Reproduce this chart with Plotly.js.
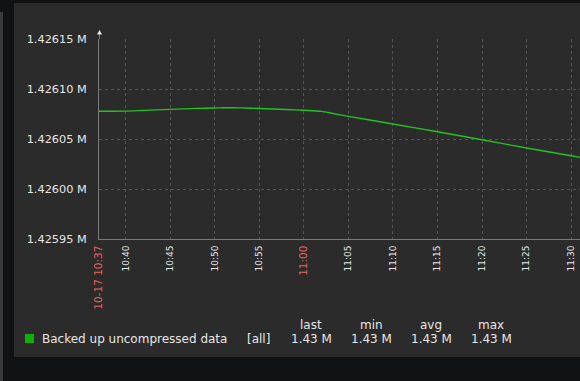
<!DOCTYPE html>
<html>
<head>
<meta charset="utf-8">
<script src="https://cdn.plot.ly/plotly-3.0.1.min.js"></script>
<style>
html,body{margin:0;padding:0;background:#111214;}
#chart{width:580px;height:381px;}
</style>
</head>
<body>
<div id="chart"></div>
<script>
// ---- data ----
const times = [
  '2024-10-17 10:37:00','2024-10-17 10:40:00','2024-10-17 10:42:00','2024-10-17 10:45:00',
  '2024-10-17 10:48:00','2024-10-17 10:50:00','2024-10-17 10:51:00','2024-10-17 10:52:00',
  '2024-10-17 10:53:00','2024-10-17 10:55:00','2024-10-17 10:58:00','2024-10-17 11:00:00',
  '2024-10-17 11:01:00','2024-10-17 11:02:00','2024-10-17 11:03:00','2024-10-17 11:05:00',
  '2024-10-17 11:10:00','2024-10-17 11:15:00','2024-10-17 11:20:00','2024-10-17 11:25:00',
  '2024-10-17 11:30:00','2024-10-17 11:31:00'
];
const values = [
  1426077.7, 1426077.9, 1426078.6, 1426079.6,
  1426080.6, 1426081.0, 1426081.2, 1426081.3,
  1426081.1, 1426080.5, 1426079.5, 1426078.8,
  1426078.3, 1426077.6, 1426076.0, 1426072.6,
  1426065.0, 1426057.2, 1426049.2, 1426041.0,
  1426033.2, 1426031.6
];
const seriesName = 'Backed up uncompressed data';
const yTickVals = [1425950, 1426000, 1426050, 1426100, 1426150];
const yTickText = ['1.42595 M', '1.42600 M', '1.42605 M', '1.42610 M', '1.42615 M'];
const xTickVals = [
  '2024-10-17 10:37','2024-10-17 10:40','2024-10-17 10:45','2024-10-17 10:50','2024-10-17 10:55',
  '2024-10-17 11:00','2024-10-17 11:05','2024-10-17 11:10','2024-10-17 11:15','2024-10-17 11:20',
  '2024-10-17 11:25','2024-10-17 11:30'
];
const xTickLabels = ['10-17 10:37','10:40','10:45','10:50','10:55','11:00','11:05','11:10','11:15','11:20','11:25','11:30'];
const xTickRed = [true,false,false,false,false,true,false,false,false,false,false,false];
const legendFunc = '[all]';
const statNames = ['last', 'min', 'avg', 'max'];
const statValues = ['1.43 M', '1.43 M', '1.43 M', '1.43 M'];

// ---- layout helpers (pixel -> paper) ----
const L = 99, R = 580, T = 39, B = 239;
const xp = px => (px - L) / (R - L);
const yp = py => (B - py) / (B - T);

const ticktext = xTickLabels.map((t, i) =>
  xTickRed[i] ? '<span style="fill:#e86060;font-size:10.5px">' + t + '</span>' : t);

const shapes = [
  {type:'rect', xref:'paper', yref:'paper', x0:xp(14), x1:xp(600), y0:yp(3), y1:yp(357),
   fillcolor:'#2b2b2b', line:{width:0}, layer:'below'},
  {type:'rect', xref:'paper', yref:'paper', x0:xp(0), x1:xp(3), y0:yp(12), y1:yp(381),
   fillcolor:'#3a3a3a', line:{width:0}, layer:'below'},
  {type:'line', xref:'paper', yref:'paper', x0:xp(99.5), x1:xp(99.5), y0:yp(34), y1:yp(39),
   line:{color:'#7a7a7a', width:1}},
  {type:'path', xref:'paper', yref:'paper',
   path:'M '+xp(99.5)+' '+yp(30)+' L '+xp(97)+' '+yp(34.5)+' L '+xp(102)+' '+yp(34.5)+' Z',
   fillcolor:'#e8e8e8', line:{width:0}},
  {type:'rect', xref:'paper', yref:'paper', x0:xp(25), x1:xp(34), y0:yp(334), y1:yp(343),
   fillcolor:'#0db00d', line:{width:0}}
];

const legFont = {family:'DejaVu Sans', size:12, color:'#e6e6e6'};
const annotations = [
  {xref:'paper', yref:'paper', x:xp(40), y:yp(339), text:seriesName, showarrow:false,
   xanchor:'left', yanchor:'middle', font:legFont},
  {xref:'paper', yref:'paper', x:xp(258), y:yp(339), text:legendFunc, showarrow:false,
   xanchor:'center', yanchor:'middle', font:legFont}
];
const statCenters = [311, 371, 431, 491];
statNames.forEach((n, i) => {
  annotations.push({xref:'paper', yref:'paper', x:xp(statCenters[i]), y:yp(325), text:n,
    showarrow:false, xanchor:'center', yanchor:'middle', font:legFont});
  annotations.push({xref:'paper', yref:'paper', x:xp(statCenters[i]), y:yp(339), text:statValues[i],
    showarrow:false, xanchor:'center', yanchor:'middle', font:legFont});
});

const trace = {
  x: times, y: values, type:'scatter', mode:'lines', name: seriesName,
  line:{color:'#22c322', width:1.4, shape:'spline', smoothing:0.6}, hoverinfo:'skip'
};

const layout = {
  width:580, height:381,
  margin:{l:L, r:580-R, t:T, b:381-B, pad:0},
  paper_bgcolor:'#111214', plot_bgcolor:'#2b2b2b',
  showlegend:false,
  font:{family:'DejaVu Sans', color:'#e6e6e6'},
  xaxis:{
    type:'date', range:['2024-10-17 10:37:00','2024-10-17 11:31:00'],
    tickmode:'array', tickvals:xTickVals, ticktext:ticktext,
    tickangle:-90, ticks:'', ticklabelstandoff:2, tickfont:{family:'DejaVu Sans', size:9, color:'#e6e6e6'},
    showgrid:true, gridcolor:'#555555', gridwidth:1, griddash:'dot',
    showline:true, linecolor:'#7a7a7a', linewidth:1, zeroline:false, fixedrange:true
  },
  yaxis:{
    range:[1425950, 1426150], tickmode:'array', tickvals:yTickVals, ticktext:yTickText,
    ticks:'', ticklabelstandoff:9, tickfont:{family:'DejaVu Sans', size:11.3, color:'#e6e6e6'},
    showgrid:true, gridcolor:'#555555', gridwidth:1, griddash:'dot',
    showline:true, linecolor:'#7a7a7a', linewidth:1, zeroline:false, fixedrange:true
  },
  shapes: shapes,
  annotations: annotations
};

Plotly.newPlot('chart', [trace], layout, {staticPlot:true, displayModeBar:false});
</script>
</body>
</html>
